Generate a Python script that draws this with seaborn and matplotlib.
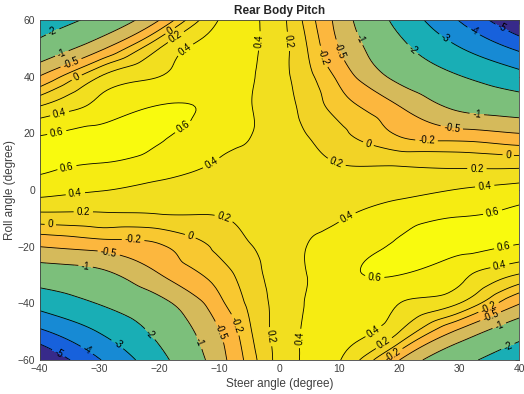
import numpy as np
import matplotlib
matplotlib.use('Agg')
import matplotlib.pyplot as plt
import matplotlib.tri as mtri
import seaborn as sns

sns.set_style('white')
plt.rcParams['font.family'] = ['Liberation Sans', 'DejaVu Sans']

# grid (steer in columns, roll in rows)
steer = [-40, -30, -20, -10, -5, 0, 5, 10, 20, 30, 40]
roll = [-60, -50, -40, -30, -20, -10, 0, 10, 20, 30, 40, 50, 60]
pitch = [
    [-6.10, -4.05, -2.30, -0.66, -0.11, 0.27, 0.44, 0.41, -0.50, -1.68, -2.65],
    [-4.20, -2.95, -1.75, -0.51, -0.03, 0.28, 0.43, 0.47, 0.20, -0.60, -1.60],
    [-2.66, -1.96, -1.20, -0.27, 0.04, 0.28, 0.42, 0.50, 0.40, 0.20, -0.48],
    [-1.48, -1.18, -0.52, -0.10, 0.11, 0.29, 0.41, 0.53, 0.60, 0.45, 0.18],
    [-0.50, -0.38, -0.23, 0.06, 0.19, 0.29, 0.41, 0.48, 0.63, 0.66, 0.58],
    [0.10, 0.125, 0.15, 0.19, 0.25, 0.30, 0.35, 0.39, 0.52, 0.61, 0.66],
    [0.48, 0.41, 0.35, 0.31, 0.30, 0.30, 0.30, 0.31, 0.35, 0.41, 0.48],
    [0.66, 0.61, 0.52, 0.39, 0.35, 0.30, 0.25, 0.19, 0.15, 0.125, 0.10],
    [0.58, 0.66, 0.63, 0.48, 0.41, 0.29, 0.19, 0.06, -0.23, -0.38, -0.50],
    [0.18, 0.45, 0.60, 0.53, 0.41, 0.29, 0.11, -0.10, -0.52, -1.18, -1.48],
    [-0.48, 0.20, 0.40, 0.50, 0.42, 0.28, 0.04, -0.27, -1.20, -1.96, -2.66],
    [-1.60, -0.60, 0.20, 0.47, 0.43, 0.28, -0.03, -0.51, -1.75, -2.95, -4.20],
    [-2.65, -1.68, -0.50, 0.41, 0.44, 0.27, -0.11, -0.66, -2.30, -4.05, -6.10],
]
levels = [-5, -4, -3, -2, -1, -0.5, -0.2, 0, 0.2, 0.4, 0.6]

band_colors = ['#372a8a', '#1761dc', '#178ad4', '#19aeb5', '#7cbf7b', '#d5ba5b',
               '#fcb73e', '#f8c830', '#f2d326', '#f2df1f', '#f6ec12', '#f9fa0e']

# where matlab put the contour labels
label_pos = [(-37.7, 55.3), (-36.3, 48.3), (-34.6, 44.1), (-34, 40.5), (-18.5, 57.1),
             (-17.4, 54.4), (-16, 50.4), (-36.6, 26.5), (-37, 19), (-16.1, 22.3),
             (-35.3, 6.5), (-34, -1.8), (-32.7, -7.4), (-38.2, -12.4), (-24.4, -17.6),
             (-28.5, -22.6), (-32.4, -28.2), (-22.1, -51.8), (-27.1, -54.7), (-32.1, -56.5),
             (-37.1, -58.6), (-13.8, -54.1), (-9.9, -50), (-7.4, -47.6), (-1.6, -51.8),
             (2.9, -52.3), (-11, 8.2), (9.2, 8.2), (-9.1, -8.8), (-14.9, -16.5),
             (11.2, -9.4), (-2.4, 52.4), (1.2, 52.4), (7.2, 47), (10.1, 49.4),
             (13.4, 53.5), (22.6, 50.6), (27.6, 53.5), (32.3, 55.9), (37.3, 58.2),
             (32.9, 27.1), (28.7, 21.8), (14.8, 16.2), (24.5, 17.1), (38.1, 11.5),
             (32.9, 6.8), (34.2, 1.4), (35.4, -6.8), (37.3, -19.4), (15.9, -29.4),
             (36.7, -26.5), (34.8, -41.2), (35.1, -44.1), (36.7, -48.3), (38.1, -55.3),
             (15.9, -50.6), (17.6, -54.7), (18.7, -57.4)]

X, Y = np.meshgrid(steer, roll)
Z = np.array(pitch)
tri = mtri.Triangulation(X.ravel(), Y.ravel())
tri_f, z_f = mtri.UniformTriRefiner(tri).refine_field(Z.ravel(), subdiv=4)

fig = plt.figure(figsize=(5.24, 3.94), dpi=100)
ax = fig.add_axes([0.0754, 0.0863, 0.9160, 0.8629])
ax.tricontourf(tri_f, z_f, levels=[-20] + levels + [20], colors=band_colors)
cs = ax.tricontour(tri_f, z_f, levels=levels, colors='k', linewidths=0.6,
                   linestyles='solid', negative_linestyles='solid')
ax.clabel(cs, fmt=lambda v: f'{v:g}', fontsize=7, inline=True, inline_spacing=3,
          manual=label_pos)

ax.set_xlim(-40, 40)
ax.set_ylim(-60, 60)
ax.set_xticks(range(-40, 41, 10))
ax.set_yticks(range(-60, 61, 20))
ax.tick_params(direction='in', top=True, right=True, length=3, width=0.5,
               colors='#404040', labelsize=7.5, pad=3)
for sp in ax.spines.values():
    sp.set_color('#404040')
    sp.set_linewidth(0.6)
ax.set_xlabel('Steer angle (degree)', fontsize=8.5, color='#404040', labelpad=3)
ax.set_ylabel('Roll angle (degree)', fontsize=8.5, color='#404040', labelpad=1)
ax.set_title('Rear Body Pitch', fontsize=8.5, fontweight='bold', pad=4)

fig.savefig('out.png', dpi=100)
